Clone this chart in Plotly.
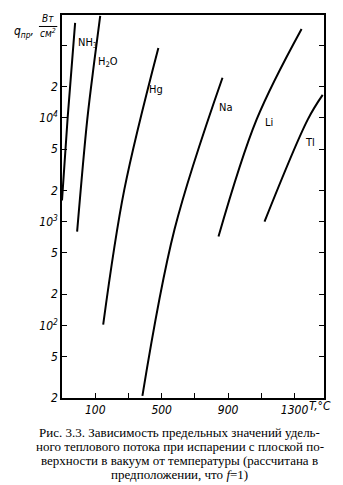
import math
import plotly.graph_objects as go

# ---- data ----
nh3_T = [-100, -66, -21]
nh3_q = [1600, 10000, 82000]
h2o_T = [-9, 52, 94, 130]
h2o_q = [800, 9600, 34500, 95700]
hg_T = [148, 275, 480]
hg_q = [102, 2030, 47100]
na_T = [384, 577, 866]
na_q = [21, 838, 24300]
li_T = [842, 1071, 1342]
li_q = [720, 9600, 71800]
tl_T = [1119, 1379, 1469]
tl_q = [1000, 9600, 16600]

labels = ["NH<sub>3</sub>", "H<sub>2</sub>O", "Hg", "Na", "Li", "Tl"]
label_T = [-15, 106, 414, 830, 1107, 1348]
label_q = [53000, 34500, 18600, 12500, 9100, 5750]

y_tickvals = [20, 50, 100, 200, 500, 1000, 2000, 5000, 10000, 20000, 50000]
y_ticktext = ["2", "5", "10<sup>2</sup>", "2", "5", "10<sup>3</sup>", "2", "5",
              "10<sup>4</sup>", "2", ""]
x_tickvals = [100, 300, 500, 700, 900, 1100, 1300]
x_ticktext = ["100", "", "500", "", "900", "", "1300"]

NARROW = "Liberation Sans Narrow, DejaVu Sans Condensed, Arial Narrow, sans-serif"
SERIF = "Liberation Serif, DejaVu Serif, serif"

curves = [(nh3_T, nh3_q), (h2o_T, h2o_q), (hg_T, hg_q),
          (na_T, na_q), (li_T, li_q), (tl_T, tl_q)]

fig = go.Figure()
for (T, q) in curves:
    fig.add_trace(go.Scatter(x=T, y=q, mode="lines",
                             line=dict(color="black", width=2, shape="spline", smoothing=1),
                             showlegend=False, hoverinfo="skip"))
for name, lx, ly in zip(labels, label_T, label_q):
    fig.add_annotation(x=lx, y=math.log10(ly), xref="x", yref="y", text=name,
                       showarrow=False, xanchor="left", yanchor="middle",
                       font=dict(family=NARROW, size=11, color="black"))

fig.update_xaxes(range=[-100, 1477], showgrid=False, zeroline=False,
                 showline=True, linecolor="black", linewidth=1.5, mirror=True,
                 ticks="inside", ticklen=5, tickcolor="black",
                 tickvals=x_tickvals, ticktext=x_ticktext,
                 tickfont=dict(family=NARROW, size=12, color="black", style="italic"))
fig.update_yaxes(type="log", range=[1.301, 4.99], showgrid=False, zeroline=False,
                 showline=True, linecolor="black", linewidth=1.5, mirror="ticks",
                 ticks="inside", ticklen=5, tickcolor="black",
                 tickvals=y_tickvals, ticktext=y_ticktext,
                 tickfont=dict(family=NARROW, size=12, color="black", style="italic"))

# axis titles
fig.add_annotation(xref="paper", yref="paper", x=-0.19, y=0.982, text="q<sub>пр</sub>,",
                   showarrow=False, font=dict(family=NARROW, size=12, color="black", style="italic"))
fig.add_annotation(xref="paper", yref="paper", x=-0.052, y=0.990, text="Вт",
                   xanchor="center", yanchor="middle", showarrow=False,
                   font=dict(family=NARROW, size=10, color="black", style="italic"))
fig.add_annotation(xref="paper", yref="paper", x=-0.052, y=0.952, text="см<sup>2</sup>",
                   xanchor="center", yanchor="middle", showarrow=False,
                   font=dict(family=NARROW, size=10, color="black", style="italic"))
fig.add_shape(type="line", xref="paper", yref="paper", x0=-0.088, x1=-0.018, y0=0.970, y1=0.970,
              line=dict(color="black", width=1))
fig.add_annotation(xref="paper", yref="paper", x=0.935, y=-0.045, text="T,°C",
                   xanchor="left", showarrow=False,
                   font=dict(family=NARROW, size=12, color="black", style="italic"))

caption = [
    "Рис. 3.3. Зависимость предельных значений удель-",
    "ного теплового потока при испарении с плоской по-",
    "верхности в вакуум от температуры (рассчитана в",
    "предположении, что <i>f</i>=1)",
]
for i, line in enumerate(caption):
    fig.add_annotation(xref="paper", yref="paper", x=0.449, y=-0.0888 - i * 0.0366,
                       text=line, showarrow=False, xanchor="center", yanchor="middle",
                       font=dict(family=SERIF, size=13, color="black"))

fig.update_layout(width=343, height=485, margin=dict(l=62, r=19, t=15, b=87),
                  paper_bgcolor="white", plot_bgcolor="white")

fig.write_html("out.html")
